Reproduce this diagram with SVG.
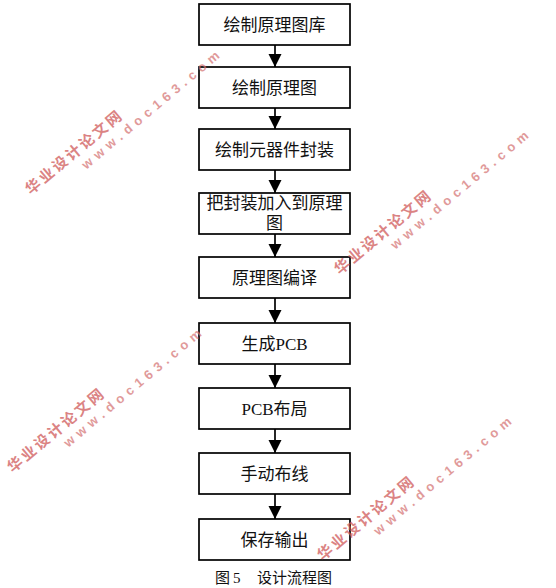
<svg xmlns="http://www.w3.org/2000/svg" width="556" height="588" viewBox="0 0 556 588">
<style>
.box{fill:#fff;stroke:#000;stroke-width:1.7}
.lbl{font-family:"Liberation Serif","Noto Sans CJK SC",serif;font-size:17px;fill:#111;text-anchor:middle}
.cap{font-family:"Liberation Serif","Noto Sans CJK SC",serif;font-size:15px;fill:#111}
.edge{stroke:#000;stroke-width:1.7;fill:none}
.wm1{font-family:"Noto Sans CJK SC",sans-serif;font-size:15px;font-weight:bold;fill:#d05a5a;opacity:0.75}
.wm2{font-family:"Liberation Sans",sans-serif;font-size:13px;font-weight:bold;fill:#d47070;opacity:0.7}
</style>
<defs>
<marker id="ah" markerWidth="13" markerHeight="14" refX="13" refY="6.5" orient="auto" markerUnits="userSpaceOnUse">
<path d="M0,0 L13,6.5 L0,13 Z" fill="#000"/>
</marker>
</defs>
<rect width="556" height="588" fill="#fff"/>
<g id="connectors">
<line class="edge" x1="275" y1="45" x2="275" y2="67" marker-end="url(#ah)"/>
<line class="edge" x1="275" y1="108" x2="275" y2="129" marker-end="url(#ah)"/>
<line class="edge" x1="275" y1="170" x2="275" y2="193" marker-end="url(#ah)"/>
<line class="edge" x1="275" y1="234" x2="275" y2="257" marker-end="url(#ah)"/>
<line class="edge" x1="275" y1="298" x2="275" y2="323" marker-end="url(#ah)"/>
<line class="edge" x1="275" y1="364" x2="275" y2="388" marker-end="url(#ah)"/>
<line class="edge" x1="275" y1="429" x2="275" y2="453" marker-end="url(#ah)"/>
<line class="edge" x1="275" y1="494" x2="275" y2="519" marker-end="url(#ah)"/>
</g>
<g id="n1"><rect class="box" x="199" y="4" width="151" height="41"/><text class="lbl" x="274.5" y="31">绘制原理图库</text></g>
<g id="n2"><rect class="box" x="199" y="67" width="151" height="41"/><text class="lbl" x="274.5" y="94">绘制原理图</text></g>
<g id="n3"><rect class="box" x="199" y="129" width="151" height="41"/><text class="lbl" x="274.5" y="156">绘制元器件封装</text></g>
<g id="n4"><rect class="box" x="199" y="193" width="151" height="41"/><text class="lbl" x="274.5" y="209">把封装加入到原理</text><text class="lbl" x="274.5" y="229">图</text></g>
<g id="n5"><rect class="box" x="199" y="257" width="151" height="41"/><text class="lbl" x="274.5" y="284">原理图编译</text></g>
<g id="n6"><rect class="box" x="199" y="323" width="151" height="41"/><text class="lbl" x="274.5" y="350">生成PCB</text></g>
<g id="n7"><rect class="box" x="199" y="388" width="151" height="41"/><text class="lbl" x="274.5" y="415">PCB布局</text></g>
<g id="n8"><rect class="box" x="199" y="453" width="151" height="41"/><text class="lbl" x="274.5" y="480">手动布线</text></g>
<g id="n9"><rect class="box" x="199" y="519" width="151" height="41"/><text class="lbl" x="274.5" y="546">保存输出</text></g>
<g id="caption"><text class="cap" y="583"><tspan x="215">图</tspan><tspan x="233">5</tspan><tspan x="257">设计流程图</tspan></text></g>
<g id="watermarks">
<g transform="translate(27.6,191.5) rotate(-40)"><text class="wm1" x="0" y="5" textLength="120" lengthAdjust="spacing">华业设计论文网</text><text class="wm2" x="59" y="21" textLength="175" lengthAdjust="spacing">www.doc163.com</text></g>
<g transform="translate(336.6,271.5) rotate(-40)"><text class="wm1" x="0" y="5" textLength="120" lengthAdjust="spacing">华业设计论文网</text><text class="wm2" x="59" y="21" textLength="175" lengthAdjust="spacing">www.doc163.com</text></g>
<g transform="translate(9.6,469.5) rotate(-40)"><text class="wm1" x="0" y="5" textLength="120" lengthAdjust="spacing">华业设计论文网</text><text class="wm2" x="59" y="21" textLength="175" lengthAdjust="spacing">www.doc163.com</text></g>
<g transform="translate(319.6,557.5) rotate(-40)"><text class="wm1" x="0" y="5" textLength="120" lengthAdjust="spacing">华业设计论文网</text><text class="wm2" x="59" y="21" textLength="175" lengthAdjust="spacing">www.doc163.com</text></g>
</g>
</svg>
